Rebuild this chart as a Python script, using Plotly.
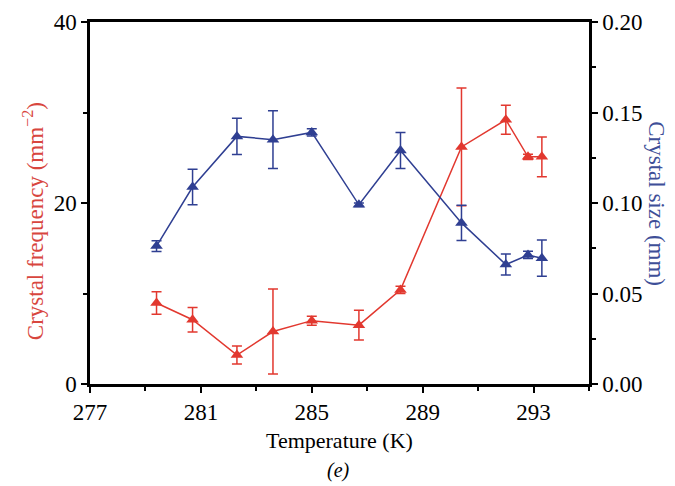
import plotly.graph_objects as go

temperature = [279.4, 280.7, 282.3, 283.6, 285.0, 286.7, 288.2, 290.4, 292.0, 292.8, 293.3]
frequency = [8.95, 7.1, 3.2, 5.8, 7.0, 6.5, 10.4, 26.2, 29.2, 25.1, 25.1]
frequency_err = [1.25, 1.35, 1.0, 4.7, 0.5, 1.65, 0.4, 6.5, 1.6, 0.3, 2.2]
size = [0.0762, 0.1088, 0.1368, 0.1350, 0.1390, 0.0990, 0.1290, 0.0890, 0.0660, 0.0713, 0.0695]
size_err = [0.003, 0.0098, 0.010, 0.016, 0.002, 0.001, 0.010, 0.0097, 0.0058, 0.002, 0.010]

x_ticks = [277, 281, 285, 289, 293]

RED = "#e2382f"
BLUE = "#2f3f92"
FONT = "Liberation Serif"

fig = go.Figure()
fig.add_trace(go.Scatter(
    x=temperature, y=frequency, mode="lines+markers",
    line=dict(color=RED, width=1.5),
    marker=dict(symbol="triangle-up", size=11, color=RED),
    error_y=dict(type="data", array=frequency_err, visible=True, color=RED, thickness=1.5, width=5),
    yaxis="y", showlegend=False,
))
fig.add_trace(go.Scatter(
    x=temperature, y=size, mode="lines+markers",
    line=dict(color=BLUE, width=1.5),
    marker=dict(symbol="triangle-up", size=11, color=BLUE),
    error_y=dict(type="data", array=size_err, visible=True, color=BLUE, thickness=1.5, width=5),
    yaxis="y2", showlegend=False,
))

axis_common = dict(
    showline=True, linecolor="black", linewidth=2.5, showgrid=False, zeroline=False,
    ticks="outside", ticklen=6, tickwidth=2, tickcolor="black", automargin=False,
    tickfont=dict(family=FONT, size=23, color="black"),
)

fig.update_layout(
    width=667, height=478,
    margin=dict(l=82, r=86, t=14, b=102),
    paper_bgcolor="white", plot_bgcolor="white",
    font=dict(family=FONT, size=22, color="black"),
    xaxis=dict(range=[277, 295], tickvals=x_ticks, mirror=True,
               minor=dict(dtick=2, tick0=277, ticks="outside", ticklen=4, tickwidth=2, tickcolor="black"),
               **axis_common),
    yaxis=dict(range=[0, 40], tick0=0, dtick=20,
               minor=dict(dtick=10, ticks="outside", ticklen=4, tickwidth=2, tickcolor="black"),
               **axis_common),
    yaxis2=dict(range=[0, 0.2], tick0=0, dtick=0.05, tickformat=".2f",
                overlaying="y", side="right",
                minor=dict(dtick=0.025, ticks="outside", ticklen=4, tickwidth=2, tickcolor="black"),
                **axis_common),
    annotations=[
        dict(text="Crystal frequency (mm<sup>−2</sup>)", xref="paper", yref="paper",
             x=-0.114, y=0.45, textangle=-90, showarrow=False, xanchor="center", yanchor="middle",
             font=dict(family=FONT, size=23, color="#d8463e")),
        dict(text="Crystal size (mm)", xref="paper", yref="paper",
             x=1.136, y=0.497, textangle=90, showarrow=False, xanchor="center", yanchor="middle",
             font=dict(family=FONT, size=23, color="#3e4f98")),
        dict(text="Temperature (K)", xref="paper", yref="paper",
             x=0.5, y=-0.155, showarrow=False, xanchor="center", yanchor="middle",
             font=dict(family=FONT, size=22, color="black")),
        dict(text="<i>(e)</i>", xref="paper", yref="paper",
             x=0.497, y=-0.24, showarrow=False, xanchor="center", yanchor="middle",
             font=dict(family=FONT, size=20, color="black")),
    ],
)

fig.write_html("out.html")
